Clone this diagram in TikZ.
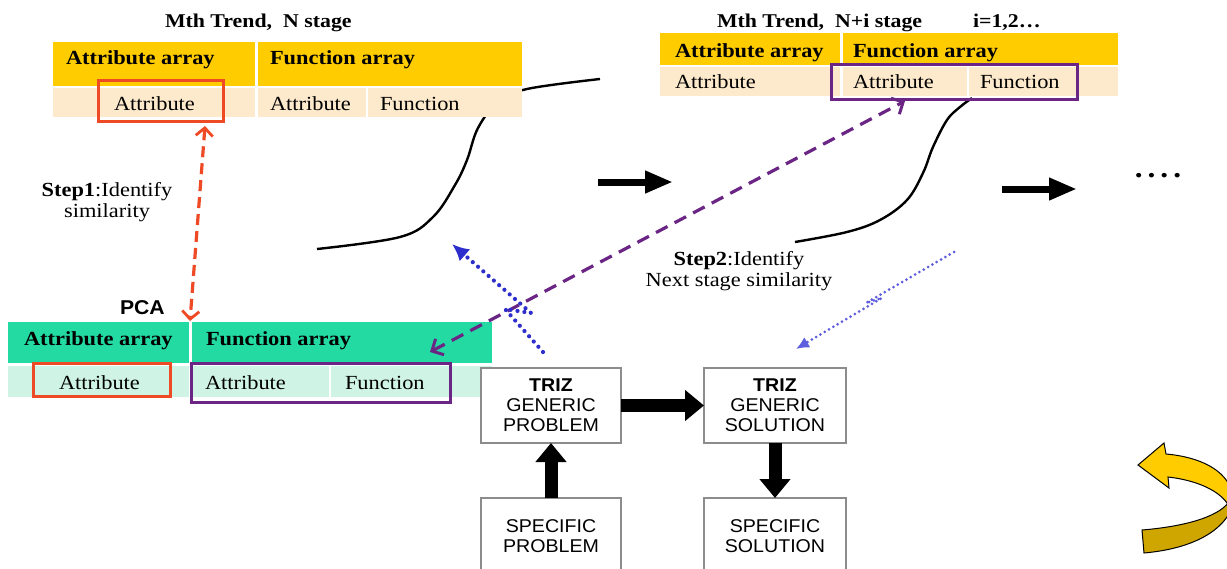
\documentclass[tikz,border=0pt]{standalone}
\usepackage{fontspec}
\setmainfont{Liberation Serif}[FakeStretch=1.12]
\setsansfont{Liberation Sans}[FakeStretch=1.06]
\usetikzlibrary{arrows.meta}
\definecolor{hdrgold}{HTML}{FFCC00}
\definecolor{rowpeach}{HTML}{FDE9CB}
\definecolor{hdrteal}{HTML}{22DAA2}
\definecolor{rowmint}{HTML}{CFF3E5}
\definecolor{markred}{HTML}{EE4A26}
\definecolor{markpurple}{HTML}{6B2585}
\definecolor{linkblue}{HTML}{2E2ECC}
\definecolor{linkblue2}{HTML}{5E5EDE}
\definecolor{boxgray}{HTML}{8C8C8C}
\definecolor{curlgold}{HTML}{FFCC00}
\definecolor{curlshade}{HTML}{CFA600}

\begin{document}
\begin{tikzpicture}[x=1pt,y=-1pt,
  every node/.style={inner sep=0pt, outer sep=0pt},
  celltext/.style={anchor=base west, font=\fontsize{20}{22}\selectfont},
  headtext/.style={anchor=base west, font=\fontsize{20}{22}\selectfont\bfseries},
  titletext/.style={anchor=base west, font=\fontsize{19.5}{21}\selectfont\bfseries},
  steptext/.style={align=center, font=\fontsize{20}{21}\selectfont},
  redmark/.style={draw=markred, line width=3pt, anchor=north west},
  purplemark/.style={draw=markpurple, line width=3pt, anchor=north west},
  trizbox/.style={draw=boxgray, line width=1.3pt, fill=white, align=center,
    font=\sffamily\fontsize{18.5}{20}\selectfont},
  fatarrow/.style={line width=13pt, -{Triangle[length=19pt,width=30pt]}},
  flowarrow/.style={line width=7pt, -{Triangle[length=28pt,width=21pt]}},
  scurve/.style={line width=2.4pt, black},
  simlink/.style={markred, line width=3.2pt, dash pattern=on 11pt off 6pt,
    {Straight Barb[length=8pt,width=17pt,line width=2.8pt]}-{Straight Barb[length=8pt,width=17pt,line width=2.8pt]}},
  nextlink/.style={markpurple, line width=3.2pt, dash pattern=on 13pt off 8pt,
    {Straight Barb[length=9pt,width=18pt,line width=3pt]}-{Straight Barb[length=9pt,width=18pt,line width=3pt]}},
  dotlink/.style={line width=4.2pt, dash pattern=on 0pt off 7pt, line cap=round},
]
\clip (0,0) rectangle (1227,568);
\fill[white] (0,0) rectangle (1227,568);

% ---- trend curves (drawn first, tables cover them) ----
\draw[scurve] plot[smooth, tension=0.6] coordinates {(317,249) (400,237) (433,217) (455,185) (467,160) (478,128) (498,102) (527,89) (600,79)};
\draw[scurve] plot[smooth, tension=0.6] coordinates {(795,242) (847,232) (880,220) (907,200) (923,173) (933,147) (947,120) (960,107) (972,98)};

% ---- table: Mth trend, N stage ----
\fill[hdrgold] (53,42) rectangle (255,86);
\fill[hdrgold] (258,42) rectangle (522,86);
\fill[rowpeach] (53,88) rectangle (255,117);
\fill[rowpeach] (258,88) rectangle (366,117);
\fill[rowpeach] (368,88) rectangle (522,117);
\node[titletext] (tlTitle) at (165,27) {Mth Trend,\ \ N stage};
\node[headtext] (tlAttrHead) at (66,64) {Attribute array};
\node[headtext] (tlFuncHead) at (270,64) {Function array};
\node[celltext] (tlAttr) at (114,110) {Attribute};
\node[celltext] (tlFAttr) at (270,110) {Attribute};
\node[celltext] (tlFFunc) at (380,110) {Function};
\node[redmark, minimum width=125pt, minimum height=41pt] (tlRed) at (98,80) {};

% ---- table: Mth trend, N+i stage ----
\fill[hdrgold] (660,33) rectangle (840,65);
\fill[hdrgold] (843,33) rectangle (1118,65);
\fill[rowpeach] (660,67) rectangle (840,96);
\fill[rowpeach] (843,67) rectangle (967,96);
\fill[rowpeach] (969,67) rectangle (1118,96);
\node[titletext] (trTitle) at (717,27) {Mth Trend,\ \ N+i stage};
\node[titletext] (trIdx) at (973,27) {i=1,2…};
\node[headtext] (trAttrHead) at (675,57) {Attribute array};
\node[headtext] (trFuncHead) at (853,57) {Function array};
\node[celltext] (trAttr) at (675,88) {Attribute};
\node[celltext] (trFAttr) at (853,88) {Attribute};
\node[celltext] (trFFunc) at (980,88) {Function};
\node[purplemark, minimum width=246pt, minimum height=35pt] (trPurple) at (831,64) {};

% ---- table: PCA ----
\fill[hdrteal] (8,322) rectangle (189,363);
\fill[hdrteal] (192,322) rectangle (492,363);
\fill[rowmint] (8,366) rectangle (189,397);
\fill[rowmint] (192,366) rectangle (329,397);
\fill[rowmint] (331,366) rectangle (492,397);
\node[anchor=base west, font=\sffamily\bfseries\fontsize{20}{22}\selectfont] (pcaLabel) at (120,314) {PCA};
\node[headtext] (pcaAttrHead) at (24,345) {Attribute array};
\node[headtext] (pcaFuncHead) at (206,345) {Function array};
\node[celltext] (pcaAttr) at (59,389) {Attribute};
\node[celltext] (pcaFAttr) at (205,389) {Attribute};
\node[celltext] (pcaFFunc) at (345,389) {Function};
\node[redmark, minimum width=137pt, minimum height=33pt] (pcaRed) at (33,363) {};
\node[purplemark, minimum width=259pt, minimum height=39pt] (pcaPurple) at (191,363) {};

% ---- step labels ----
\node[steptext] (step1) at (107,202) {\textbf{Step1}:Identify\\similarity};
\node[steptext] (step2) at (739,271) {\textbf{Step2}:Identify\\Next stage similarity};

% ---- trend progression arrows ----
\coordinate (flowA1) at (598,182);
\coordinate (flowA2) at (673,182);
\coordinate (flowB1) at (1002,189);
\coordinate (flowB2) at (1077,189);
\draw[flowarrow] (flowA1) -- (flowA2);
\draw[flowarrow] (flowB1) -- (flowB2);
\node[font=\bfseries\fontsize{28}{30}\selectfont] (more) at (1158,176) {.\hspace{5pt}.\hspace{5pt}.\hspace{5pt}.};

% ---- TRIZ boxes ----
\node[trizbox, minimum width=140pt, minimum height=75pt] (gp) at (551,405.5) {\textbf{TRIZ}\\GENERIC\\PROBLEM};
\node[trizbox, minimum width=142pt, minimum height=75pt] (gs) at (775,405.5) {\textbf{TRIZ}\\GENERIC\\SOLUTION};
\node[trizbox, minimum width=140pt, minimum height=76pt] (sp) at (551,536) {SPECIFIC\\PROBLEM};
\node[trizbox, minimum width=142pt, minimum height=76pt] (ss) at (775,536) {SPECIFIC\\SOLUTION};
\draw[fatarrow] (gp.east) -- (gs.west);
\draw[fatarrow] (sp.north) -- (gp.south);
\draw[fatarrow] (gs.south) -- (ss.north);

% ---- similarity links ----
\coordinate (s1top) at (205,126);
\coordinate (s1bot) at (190,321);
\draw[simlink] (s1top) -- (s1bot);

\coordinate (s2low) at (430,352);
\coordinate (s2high) at (905,101);
\draw[nextlink] (s2low) -- (s2high);

\coordinate (blueTailL) at (543,352);
\coordinate (blueTipL) at (452,244);
\draw[dotlink, linkblue, -{Latex[length=17pt,width=16pt]}] (blueTailL) -- (505,309) -- (531,313) -- (blueTipL);

\coordinate (blueTailR) at (954,252);
\coordinate (blueTipR) at (796,349);
\draw[dotlink, linkblue2, line width=3pt, dash pattern=on 0pt off 5pt, -{Latex[length=13pt,width=12pt]}] (blueTailR) -- (866,303) -- (882,298) -- (blueTipR);

% ---- curled return arrow ----
\draw[fill=curlshade, line width=1pt] (1236,488) .. controls (1236,525) and (1200,548) .. (1144,553)
  -- (1142,530) .. controls (1190,526) and (1222,515) .. (1230,500) -- cycle;
\draw[fill=curlgold, line width=1pt] (1138,465) -- (1164,443) -- (1166,454)
  .. controls (1200,457) and (1226,470) .. (1232,492) -- (1229,506)
  .. controls (1220,490) and (1195,480) .. (1168,477) -- (1169,488) -- cycle;
\end{tikzpicture}
\end{document}
